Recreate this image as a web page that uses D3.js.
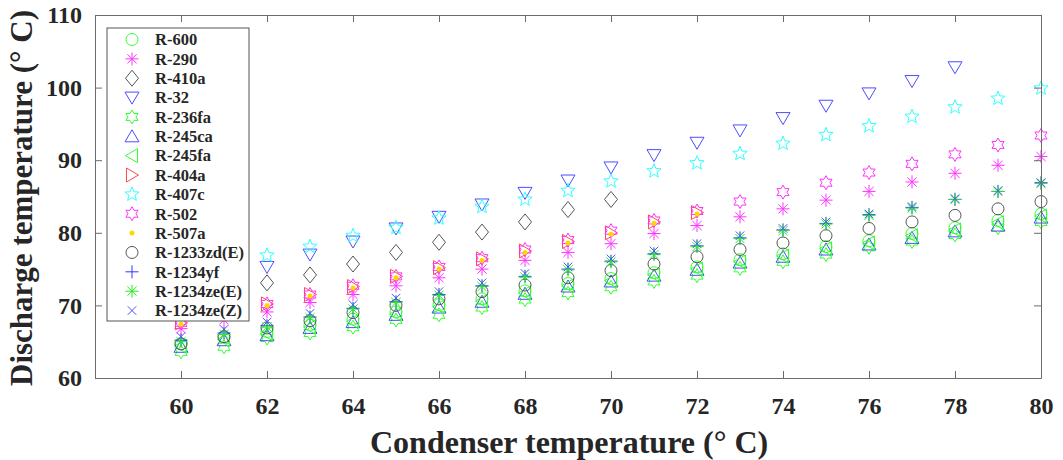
<!DOCTYPE html>
<html>
<head>
<meta charset="utf-8">
<script src="https://cdn.jsdelivr.net/npm/d3@7"></script>
<style>
  body { margin: 0; background: #fff; }
  text { font-family: "Liberation Serif", "Times New Roman", serif; font-weight: bold; }
</style>
</head>
<body>
<div id="chart"></div>
<script>
// Condenser temperature (x) and discharge temperature of each refrigerant
const condTemps = d3.range(60, 81);   // 60 ... 80

const r600     = [64.7,65.6,66.4,67.3,68.1,69.1,70.1,70.9,72.0,73.0,73.7,74.5,75.3,76.3,77.1,78.1,78.9,79.9,80.7,81.7,82.6];
const r290     = [66.8,68.0,69.1,70.4,71.5,72.7,73.8,75.0,76.2,77.3,78.5,79.9,81.0,82.2,83.3,84.5,85.7,87.0,88.2,89.3,90.5];
const r410a    = [70.6,71.8,73.1,74.2,75.7,77.3,78.7,80.1,81.5,83.2,84.6];
const r32      = [72.0,73.6,75.3,77.0,78.8,80.6,82.2,83.9,85.5,87.2,89.0,90.7,92.4,94.1,95.8,97.5,99.2,100.9,102.8];
const r236fa   = [63.6,64.3,65.5,66.2,67.0,68.0,68.7,69.7,70.8,71.7,72.5,73.3,74.1,75.1,76.0,77.0,78.0,78.8,79.7,80.7,81.5];
const r245ca   = [64.3,65.2,65.9,66.9,67.7,68.7,69.7,70.5,71.6,72.6,73.3,74.1,74.9,75.9,76.7,77.7,78.4,79.3,80.2,81.0,82.1];
const r245fa   = [64.4,65.3,66.1,67.0,67.8,68.8,69.8,70.6,71.7,72.7,73.4,74.2,75.0,76.0,76.8,77.8,78.6,79.6,80.4,81.4,82.3];
const r404a    = [67.6,68.9,70.2,71.5,72.6,74.0,75.2,76.4,77.5,78.8,80.0,81.5,82.8];
const r407c    = [74.4,75.6,76.9,78.1,79.6,80.7,82.0,83.6,84.6,85.8,87.1,88.5,89.6,90.9,92.3,93.5,94.7,96.0,97.3,98.5,99.9];
const r502     = [67.6,68.9,70.2,71.5,72.7,74.0,75.3,76.5,77.7,79.0,80.3,81.7,83.0,84.3,85.6,86.9,88.3,89.5,90.8,92.1,93.4];
const r507a    = [67.4,68.7,70.0,71.3,72.4,73.8,75.0,76.2,77.3,78.6,79.8,81.3,82.6];
const r1233zdE = [64.7,65.7,66.9,67.9,69.0,70.0,70.9,71.9,72.8,73.8,74.8,75.7,76.7,77.7,78.6,79.6,80.6,81.5,82.4,83.3,84.3];
const r1234yf  = [65.2,66.2,67.2,68.4,69.6,70.5,71.5,72.7,74.0,75.0,76.1,77.1,78.2,79.3,80.4,81.3,82.5,83.5,84.6,85.7,86.9];
const r1234zeE = [65.0,66.0,67.0,68.3,69.5,70.4,71.4,72.6,73.9,74.9,76.0,77.0,78.1,79.2,80.3,81.2,82.4,83.4,84.6,85.7,86.8];
const r1234zeZ = [65.7,66.7,67.7,68.9,70.1,71.0,71.9,73.1,74.4,75.3,76.4,77.5,78.5,79.6,80.6,81.5,82.6,83.6,84.7,85.8,86.9];

const xTicks = [60, 62, 64, 66, 68, 70, 72, 74, 76, 78, 80];
const yTicks = [60, 70, 80, 90, 100, 110];

// marker outlines in local coordinates
function star(n, ro, ri) {
    const pts = [];
    for (let i = 0; i < 2 * n; i++) {
        const a = -Math.PI / 2 + i * Math.PI / n;
        const r = i % 2 ? ri : ro;
        pts.push([r * Math.cos(a), r * Math.sin(a)]);
    }
    return 'M' + pts.map(p => p.join(',')).join('L') + 'Z';
}
function spokes(n, r, offset) {
    let d = '';
    for (let i = 0; i < n; i++) {
        const a = offset + i * Math.PI / n;
        d += `M${r * Math.cos(a)},${r * Math.sin(a)}L${-r * Math.cos(a)},${-r * Math.sin(a)}`;
    }
    return d;
}
const shapes = {
    circle: 'M6,0A6,6 0 1,1 -6,0A6,6 0 1,1 6,0Z',
    asterisk: spokes(4, 6.5, 0),
    diamond: 'M0,-8L6.5,0L0,8L-6.5,0Z',
    triDown: 'M-7,-5.5L7,-5.5L0,6.5Z',
    triUp: 'M-7,5.5L7,5.5L0,-6.5Z',
    triLeft: 'M5.5,-7L5.5,7L-6.5,0Z',
    triRight: 'M-5.5,-7L-5.5,7L6.5,0Z',
    hexagram: star(6, 7, 4),
    pentagram: star(5, 7.5, 3.2),
    plus: spokes(2, 6.5, 0),
    cross: spokes(2, 6, Math.PI / 4),
    dot: 'M2.5,0A2.5,2.5 0 1,1 -2.5,0A2.5,2.5 0 1,1 2.5,0Z'
};

const series = [
    { name: 'R-600',       values: r600,     shape: 'circle',    color: '#33ff33' },
    { name: 'R-290',       values: r290,     shape: 'asterisk',  color: '#ff33ff' },
    { name: 'R-410a',      values: r410a,    shape: 'diamond',   color: '#555555' },
    { name: 'R-32',        values: r32,      shape: 'triDown',   color: '#4d4dff' },
    { name: 'R-236fa',     values: r236fa,   shape: 'hexagram',  color: '#33ff33' },
    { name: 'R-245ca',     values: r245ca,   shape: 'triUp',     color: '#4d4dff' },
    { name: 'R-245fa',     values: r245fa,   shape: 'triLeft',   color: '#33ff33' },
    { name: 'R-404a',      values: r404a,    shape: 'triRight',  color: '#ff4d4d' },
    { name: 'R-407c',      values: r407c,    shape: 'pentagram', color: '#33ffff' },
    { name: 'R-502',       values: r502,     shape: 'hexagram',  color: '#ff33ff' },
    { name: 'R-507a',      values: r507a,    shape: 'dot',       color: '#ffd700', fill: true },
    { name: 'R-1233zd(E)', values: r1233zdE, shape: 'circle',    color: '#555555' },
    { name: 'R-1234yf',    values: r1234yf,  shape: 'plus',      color: '#3333ff' },
    { name: 'R-1234ze(E)', values: r1234zeE, shape: 'asterisk',  color: '#22ee22' },
    { name: 'R-1234ze(Z)', values: r1234zeZ, shape: 'cross',     color: '#4d4dff' }
];

const width = 1063, height = 460;
const plot = { left: 95, right: 1041, top: 15, bottom: 378 };

const svg = d3.select('#chart').append('svg')
    .attr('width', width)
    .attr('height', height);

const x = d3.scaleLinear().domain([58, 80]).range([plot.left, plot.right]);
const y = d3.scaleLinear().domain([60, 110]).range([plot.bottom, plot.top]);

// Markers
series.forEach(s => {
    svg.append('g')
        .selectAll('path')
        .data(s.values)
        .join('path')
        .attr('transform', (d, i) => `translate(${x(condTemps[i])},${y(d)})`)
        .attr('d', shapes[s.shape])
        .attr('fill', s.fill ? s.color : 'none')
        .attr('stroke', s.fill ? 'none' : s.color)
        .attr('stroke-width', 1);
});

// Axes (ticks pointing inward, box all round)
const axisColor = '#6b6b6b';
function styleAxis(g) {
    g.selectAll('path, line').attr('stroke', axisColor);
    g.selectAll('text')
        .attr('fill', '#262626')
        .style('font-family', '"Liberation Serif", "Times New Roman", serif')
        .style('font-weight', 'bold')
        .style('font-size', '24px');
}

svg.append('g')
    .attr('transform', `translate(0,${plot.bottom})`)
    .call(d3.axisBottom(x).tickValues(xTicks).tickSizeInner(-7).tickSizeOuter(0).tickPadding(19))
    .call(styleAxis);

svg.append('g')
    .attr('transform', `translate(0,${plot.top})`)
    .call(d3.axisTop(x).tickValues(xTicks).tickSizeInner(-7).tickSizeOuter(0).tickFormat(''))
    .call(styleAxis);

svg.append('g')
    .attr('transform', `translate(${plot.left},0)`)
    .call(d3.axisLeft(y).tickValues(yTicks).tickSizeInner(-7).tickSizeOuter(0).tickPadding(13))
    .call(styleAxis);

svg.append('g')
    .attr('transform', `translate(${plot.right},0)`)
    .call(d3.axisRight(y).tickValues(yTicks).tickSizeInner(-7).tickSizeOuter(0).tickFormat(''))
    .call(styleAxis);

// Axis titles
svg.append('text')
    .attr('x', 370)
    .attr('y', 453)
    .attr('fill', '#262626')
    .style('font-size', '32px')
    .text('Condenser temperature (° C)');

svg.append('text')
    .attr('transform', `translate(32,198) rotate(-90)`)
    .attr('text-anchor', 'middle')
    .attr('fill', '#262626')
    .style('font-size', '31px')
    .text('Discharge temperature (° C)');

// Legend
const legend = svg.append('g');
legend.append('rect')
    .attr('x', 107)
    .attr('y', 28)
    .attr('width', 142)
    .attr('height', 293)
    .attr('fill', '#fff')
    .attr('stroke', '#555')
    .attr('stroke-width', 1);

const rowStep = 19.36;
series.forEach((s, i) => {
    const row = legend.append('g')
        .attr('transform', `translate(132,${39.5 + i * rowStep})`);
    row.append('path')
        .attr('d', shapes[s.shape])
        .attr('fill', s.fill ? s.color : 'none')
        .attr('stroke', s.fill ? 'none' : s.color)
        .attr('stroke-width', 1);
    row.append('text')
        .attr('x', 23)
        .attr('dy', '0.35em')
        .attr('fill', '#262626')
        .style('font-size', '16.5px')
        .text(s.name);
});
</script>
</body>
</html>
